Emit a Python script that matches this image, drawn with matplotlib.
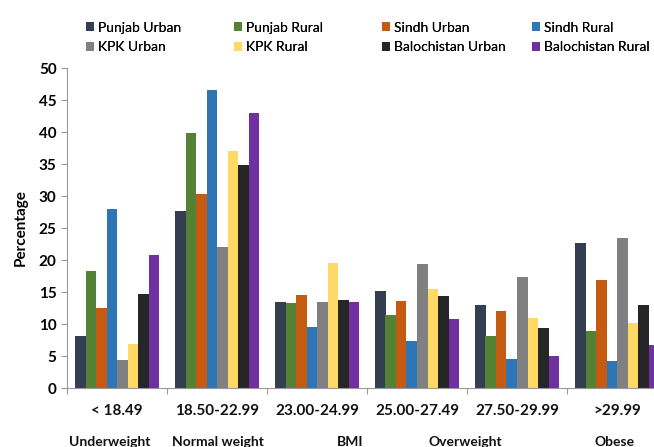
import matplotlib
matplotlib.use("Agg")
import matplotlib.pyplot as plt
import numpy as np

plt.rcParams["font.family"] = ["Lato", "DejaVu Sans"]

bmi_ranges = ["< 18.49", "18.50-22.99", "23.00-24.99", "25.00-27.49", "27.50-29.99", ">29.99"]
series_names = ["Punjab Urban", "Punjab Rural", "Sindh Urban", "Sindh Rural",
                "KPK Urban", "KPK Rural", "Balochistan Urban", "Balochistan Rural"]
colors = ["#333F50", "#548235", "#C55A11", "#2E75B6",
          "#808080", "#FFD966", "#262626", "#7030A0"]

punjab_urban = [8.1, 27.7, 13.4, 15.1, 12.9, 22.7]
punjab_rural = [18.3, 39.8, 13.3, 11.4, 8.1, 8.9]
sindh_urban = [12.5, 30.3, 14.5, 13.6, 12.1, 16.9]
sindh_rural = [28.0, 46.5, 9.6, 7.3, 4.6, 4.2]
kpk_urban = [4.4, 22.0, 13.5, 19.3, 17.3, 23.5]
kpk_rural = [6.8, 37.1, 19.5, 15.5, 11.0, 10.1]
baloch_urban = [14.7, 34.8, 13.8, 14.3, 9.4, 12.9]
baloch_rural = [20.8, 43.0, 13.5, 10.8, 5.0, 6.7]
series = [punjab_urban, punjab_rural, sindh_urban, sindh_rural,
          kpk_urban, kpk_rural, baloch_urban, baloch_rural]

class_labels = ["Underweight", "Normal weight", "BMI", "Overweight", "Obese"]
class_pos = [-0.07, 1.01, 2.33, 3.48, 4.98]

fig = plt.figure(figsize=(6.54, 4.47), dpi=100)
ax = fig.add_axes([67 / 654, 1 - 388 / 447, 600 / 654, 320 / 447])

x = np.arange(len(bmi_ranges))
w = 0.105
handles = []
for i, (name, vals, c) in enumerate(zip(series_names, series, colors)):
    h = ax.bar(x + (i - 3.5) * w, vals, width=w, color=c, label=name)
    handles.append(h)

ax.set_xlim(-0.5, 5.5)
ax.set_ylim(0, 50)
ax.set_yticks(range(0, 51, 5))
ax.set_xticks(np.arange(-0.5, 6, 1))
ax.set_xticklabels([])
ax.tick_params(axis="x", length=4, color="#999999")
ax.tick_params(axis="y", length=4, color="#999999", labelsize=11)
for lab in ax.get_yticklabels():
    lab.set_fontweight("bold")
ax.spines["top"].set_visible(False)
ax.spines["right"].set_visible(False)
ax.spines["left"].set_color("#999999")
ax.spines["bottom"].set_color("#999999")

trans = ax.get_xaxis_transform()
for xi, lab in zip(x, bmi_ranges):
    ax.text(xi, -0.072, lab, transform=trans, ha="center", va="center",
            fontsize=11, fontweight="bold", color="#111111")
for xp, lab in zip(class_pos, class_labels):
    ax.text(xp, -0.168, lab, transform=trans, ha="center", va="center",
            fontsize=10, fontweight="bold", color="#111111")

ax.set_ylabel("Percentage", fontsize=11, fontweight="bold", labelpad=8)

# one small legend per column so the columns sit at even spacing
legend_x = [80, 228, 376, 526]
for col, lx in enumerate(legend_x):
    idx = [col, col + 4]
    leg = fig.legend([handles[i] for i in idx], [series_names[i] for i in idx],
                     loc="upper left", bbox_to_anchor=(lx / 654, 1 - 16 / 447),
                     ncol=1, frameon=False, fontsize=10, handlelength=0.6,
                     handleheight=0.6, handletextpad=0.3, labelspacing=0.55,
                     borderaxespad=0)
    fig.add_artist(leg)

fig.savefig("out.png", dpi=100)
